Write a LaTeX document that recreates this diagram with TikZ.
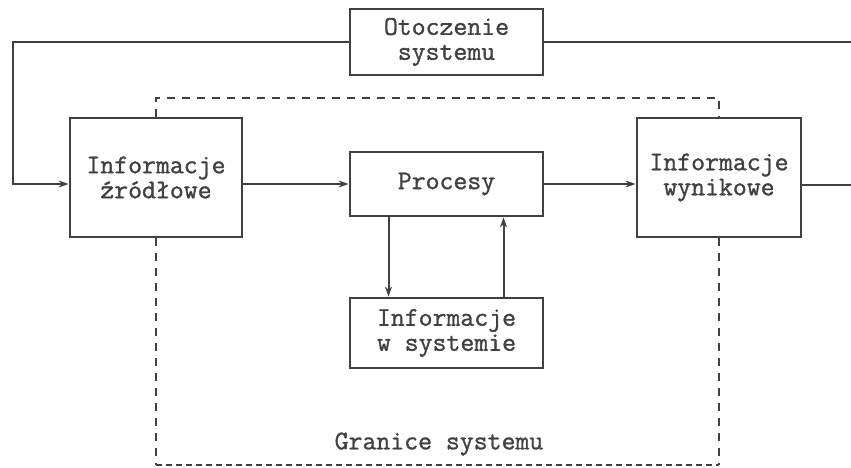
\documentclass[tikz,border=0pt]{standalone}
\usepackage{fontspec}
\newfontfamily\tw{Latin Modern Mono}[FakeBold=1.2]
\usetikzlibrary{arrows.meta}
\definecolor{ink}{RGB}{65,65,65}
\begin{document}
\begin{tikzpicture}[x=1pt,y=-1pt,
  txt/.style={text=ink,font=\tw\fontsize{27}{25}\selectfont},
  box/.style={txt,draw=ink,line width=2.8pt,align=center,inner sep=0pt},
  conn/.style={draw=ink,line width=2pt},
  arr/.style={conn,-{Stealth[length=10pt,width=7pt]}},
  bound/.style={draw=ink,line width=2pt,dash pattern=on 8pt off 7pt},
  boundb/.style={draw=ink,line width=2pt,dash pattern=on 6pt off 4pt}]
\useasboundingbox (0,0) rectangle (851,468);
\node[box,minimum width=193pt,minimum height=66pt] (otocz) at (446.5,42) {Otoczenie\\systemu};
\node[box,minimum width=172pt,minimum height=119pt] (src) at (156,177.5) {Informacje\\źródłowe};
\node[box,minimum width=193pt,minimum height=64pt] (proc) at (446.5,184) {Procesy};
\node[box,minimum width=164pt,minimum height=119pt] (wyn) at (719,177.5) {Informacje\\wynikowe};
\node[box,minimum width=193pt,minimum height=70pt] (wsys) at (446.5,333) {Informacje\\w systemie};
\node[txt] (gran) at (439,444) {Granice systemu};
\coordinate (lt) at (13,42);
\coordinate (rt) at (851,42);
\coordinate (ro) at (851,185);
\coordinate (bl) at (156,465);
\coordinate (br) at (719,465);
\draw[arr] (otocz.west) -- (lt) |- (src.west |- proc.west);
\draw[conn] (otocz.east) -- (rt);
\draw[arr] (src.east |- proc.west) -- (proc.west);
\draw[arr] (proc.east) -- (wyn.west |- proc.east);
\draw[conn] (wyn.east |- ro) -- (ro);
\draw[arr] ([xshift=-58pt]proc.south) -- ([xshift=-58pt]wsys.north);
\draw[arr] ([xshift=57pt]wsys.north) -- ([xshift=57pt]proc.south);
\draw[bound] (src.north) -- ++(0,-19) -| (wyn.north);
\draw[bound] (src.south) -- (bl);
\draw[bound] (wyn.south) -- (br);
\draw[boundb] (bl) -- (br);
\end{tikzpicture}
\end{document}
